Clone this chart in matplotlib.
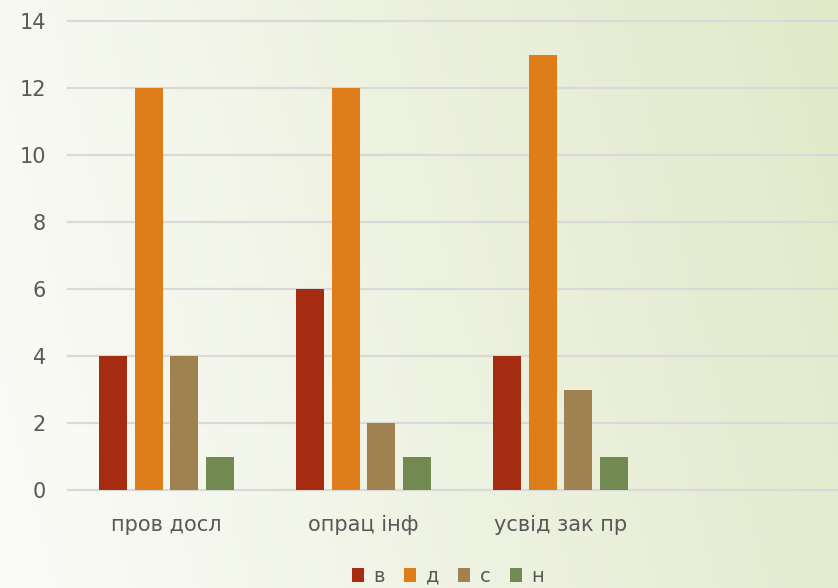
import matplotlib.pyplot as plt
import numpy as np
from matplotlib.colors import LinearSegmentedColormap

categories = ['пров досл', 'опрац інф', 'усвід зак пр', '']
series_names = ['в', 'д', 'с', 'н']
values_v = [4, 6, 4, 0]
values_d = [12, 12, 13, 0]
values_s = [4, 2, 3, 0]
values_n = [1, 1, 1, 0]
colors = ['#A52C10', '#DE7E1A', '#A08250', '#728A52']

fig = plt.figure(figsize=(8.38, 5.88), dpi=100)

# background gradient: white on the left to pale green on the right
bg = fig.add_axes([0, 0, 1, 1], zorder=-10)
xs = np.linspace(0, 1, 400)
ys = np.linspace(0, 1, 300)
X, Y = np.meshgrid(xs, ys)
grad = np.clip(0.85 * X + 0.15 * (1 - Y), 0, 1)
cmap = LinearSegmentedColormap.from_list('bg', ['#FBFCF8', '#EEF2E1', '#E1E9C9'])
bg.imshow(grad, cmap=cmap, aspect='auto', extent=[0, 1, 0, 1], origin='upper')
bg.axis('off')

# axis runs a bit past the right edge (4th slot is empty)
ax = fig.add_axes([68 / 838, 98 / 588, 788 / 838, 469 / 588])
ax.patch.set_alpha(0)

x = np.arange(len(categories))
step = 0.18
width = 0.143
all_vals = [values_v, values_d, values_s, values_n]
for i, (vals, name, c) in enumerate(zip(all_vals, series_names, colors)):
    ax.bar(x + (i - 1.5) * step, vals, width, color=c, label=name, zorder=3)

ax.set_xlim(-0.5, 3.5)
ax.set_ylim(0, 14)
ax.set_yticks(range(0, 15, 2))
ax.yaxis.grid(True, color='#D9D9D9', linewidth=1.6, zorder=0)
for gl in ax.get_ygridlines():
    gl.set_clip_on(False)
ax.set_xticks(x[:3])
ax.set_xticklabels(categories[:3])
for s in ax.spines.values():
    s.set_visible(False)
ax.tick_params(length=0, labelsize=15, colors='#595959')
ax.tick_params(axis='x', pad=18)
ax.tick_params(axis='y', pad=16)

handles, labels = ax.get_legend_handles_labels()
fig.legend(handles, labels, loc='center', bbox_to_anchor=(448 / 838, 12 / 588),
           ncol=4, frameon=False, fontsize=14, labelcolor='#595959',
           handlelength=0.6, handleheight=0.7, handletextpad=0.5, columnspacing=1.0)

fig.savefig('out.png', dpi=100)
